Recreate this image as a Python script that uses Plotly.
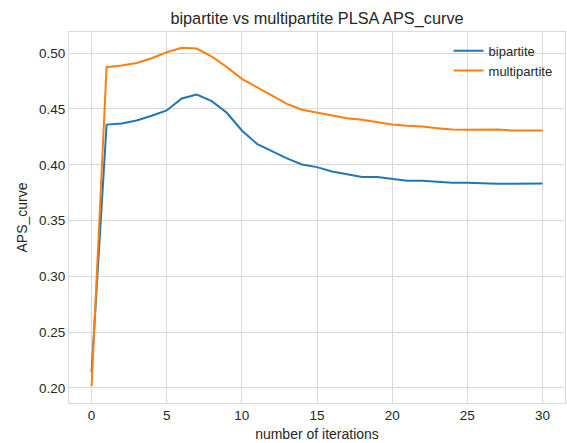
import plotly.graph_objects as go

iterations = list(range(31))
bipartite = [0.214, 0.436, 0.437, 0.4397, 0.4439, 0.4487, 0.4594, 0.463, 0.457, 0.4466,
             0.4307, 0.4188, 0.4122, 0.4057, 0.4003, 0.3979, 0.394, 0.3913, 0.389, 0.389,
             0.3872, 0.3857, 0.3857, 0.3845, 0.3839, 0.3839, 0.3833, 0.383, 0.383, 0.383, 0.3833]
multipartite = [0.2015, 0.4875, 0.489, 0.4913, 0.4955, 0.5009, 0.5048, 0.5042, 0.497, 0.4875,
                0.477, 0.4696, 0.462, 0.4546, 0.4493, 0.4466, 0.4439, 0.4418, 0.4403, 0.4379,
                0.4361, 0.4349, 0.4343, 0.4328, 0.4316, 0.4313, 0.4316, 0.4316, 0.4307, 0.431, 0.4307]
x_ticks = [0, 5, 10, 15, 20, 25, 30]
y_ticks = [0.20, 0.25, 0.30, 0.35, 0.40, 0.45, 0.50]

FONT = "Liberation Sans, Arial, sans-serif"
TXT = "#262626"
GRID = "#d9d9d9"

fig = go.Figure()
fig.add_trace(go.Scatter(x=iterations, y=bipartite, mode="lines", name="bipartite",
                         line=dict(color="#1f77b4", width=2)))
fig.add_trace(go.Scatter(x=iterations, y=multipartite, mode="lines", name="multipartite",
                         line=dict(color="#ff7f0e", width=2)))

fig.update_layout(
    width=567, height=443,
    margin=dict(l=69, r=2, t=32, b=40),
    paper_bgcolor="white", plot_bgcolor="white",
    font=dict(family=FONT, size=13.5, color=TXT),
    title=dict(text="bipartite vs multipartite PLSA APS_curve", x=0.5, xref="paper",
               xanchor="center", y=1 - 18 / 443, yanchor="middle",
               font=dict(family=FONT, size=16.3, color=TXT)),
    showlegend=True,
    legend=dict(x=0.985, xanchor="right", y=0.99, yanchor="top", bgcolor="rgba(0,0,0,0)",
                font=dict(family=FONT, size=13, color=TXT), tracegroupgap=0),
    xaxis=dict(range=[-1.5, 31.5], tickvals=x_ticks, ticktext=[str(v) for v in x_ticks],
               showgrid=True, gridcolor=GRID, gridwidth=1, zeroline=False,
               showline=True, linecolor=GRID, linewidth=1, mirror=True, ticks="",
               tickfont=dict(family=FONT, size=13.5, color=TXT),
               title=dict(text="number of iterations", standoff=6,
                          font=dict(family=FONT, size=14, color=TXT))),
    yaxis=dict(range=[0.1865, 0.519], tickvals=y_ticks, ticktext=[f"{v:.2f}" for v in y_ticks],
               showgrid=True, gridcolor=GRID, gridwidth=1, zeroline=False,
               showline=True, linecolor=GRID, linewidth=1, mirror=True, ticks="",
               tickfont=dict(family=FONT, size=13.5, color=TXT),
               title=dict(text="APS_curve", standoff=8,
                          font=dict(family=FONT, size=14, color=TXT))),
)

fig.write_html("out.html")
